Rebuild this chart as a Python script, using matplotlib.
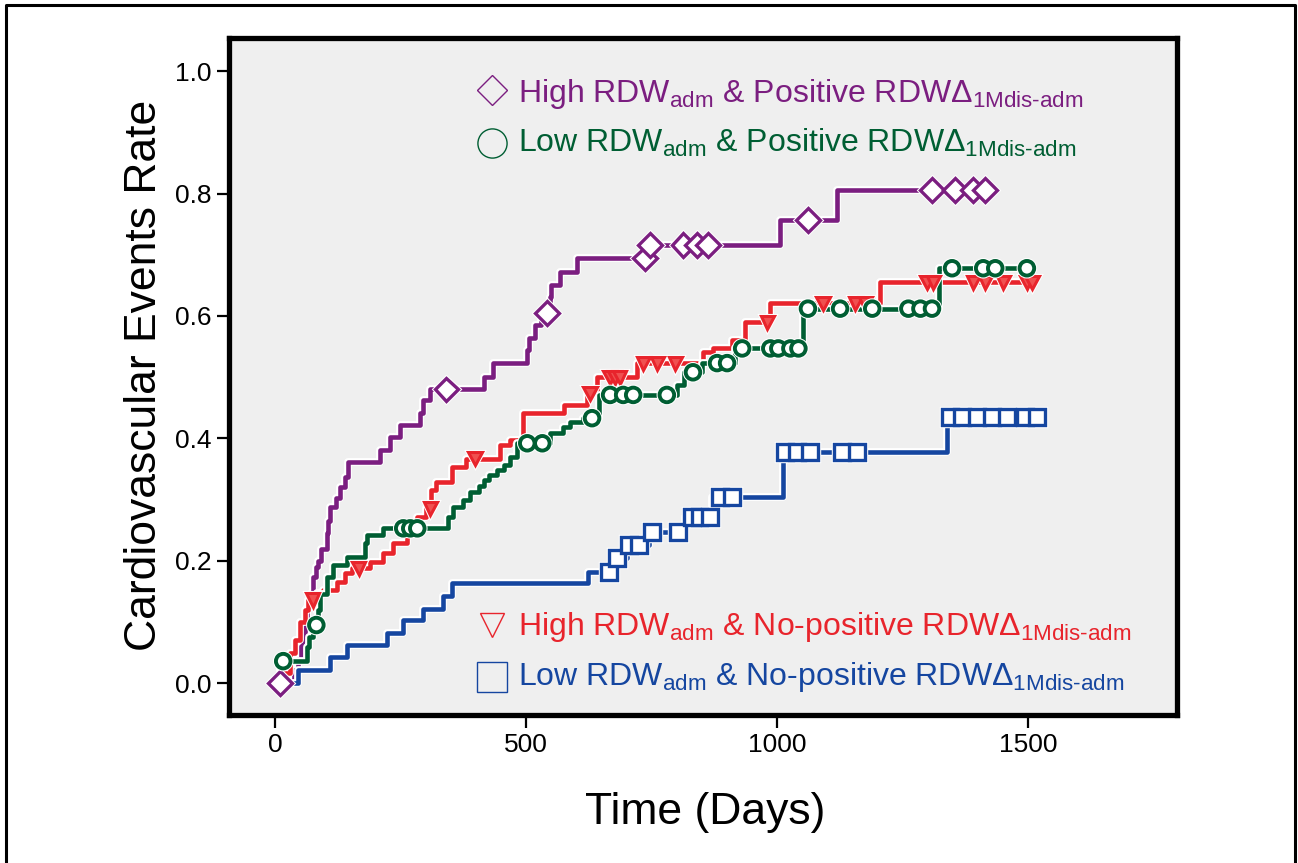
import numpy as np
import matplotlib
matplotlib.use('Agg')
import matplotlib.pyplot as plt
import matplotlib.patheffects as pe
from matplotlib.lines import Line2D

plt.rcParams['font.family'] = ['Liberation Sans', 'DejaVu Sans']
plt.rcParams['mathtext.fontset'] = 'custom'
plt.rcParams['mathtext.rm'] = 'Liberation Sans'
plt.rcParams['mathtext.it'] = 'Liberation Sans'
plt.rcParams['mathtext.bf'] = 'Liberation Sans'

# High RDW_adm & positive delta (purple)
hp_t = [0, 38, 46, 52, 56, 60, 63, 70, 76, 82, 86, 92, 103, 106, 109, 122, 130, 139, 145,
        209, 229, 249, 289, 295, 309, 415, 434, 501, 505, 518, 530, 548, 550, 568, 601,
        742, 1006, 1119]
hp_y = [0, 0.021, 0.04, 0.06, 0.08, 0.10, 0.124, 0.145, 0.173, 0.19, 0.20, 0.22, 0.245,
        0.265, 0.288, 0.302, 0.32, 0.337, 0.361, 0.381, 0.402, 0.422, 0.441, 0.462, 0.48,
        0.50, 0.523, 0.544, 0.564, 0.585, 0.605, 0.631, 0.65, 0.672, 0.694, 0.716, 0.757,
        0.806]
hp_end = 1414
hp_cens = [10, 341, 541, 737, 747, 813, 840, 862, 1061, 1308, 1354, 1390, 1414]

# Low RDW_adm & positive delta (green)
lp_t = [0, 10, 63, 68, 75, 85, 90, 103, 116, 143, 179, 182, 215, 344, 354, 374, 388, 405,
        415, 425, 441, 455, 468, 481, 548, 574, 587, 614, 645, 800, 815, 850, 915, 1052,
        1321]
lp_y = [0, 0.036, 0.059, 0.075, 0.095, 0.12, 0.145, 0.173, 0.193, 0.206, 0.229, 0.242,
        0.253, 0.272, 0.288, 0.299, 0.313, 0.323, 0.332, 0.340, 0.348, 0.356, 0.370,
        0.392, 0.408, 0.418, 0.426, 0.433, 0.471, 0.487, 0.508, 0.523, 0.547, 0.612,
        0.678]
lp_end = 1497
lp_cens = [16, 82, 255, 269, 283, 502, 532, 631, 667, 693, 713, 780, 832, 880, 900, 930,
           986, 1002, 1026, 1042, 1061, 1125, 1189, 1261, 1285, 1308, 1348, 1410, 1434,
           1497]

# High RDW_adm & no-positive delta (red)
hn_t = [0, 16, 30, 40, 50, 60, 66, 83, 96, 123, 139, 152, 189, 215, 235, 262, 282, 300,
        311, 320, 352, 380, 448, 468, 494, 576, 620, 640, 720, 852, 872, 910, 936, 986,
        1205]
hn_y = [0, 0.016, 0.049, 0.07, 0.10, 0.119, 0.136, 0.147, 0.152, 0.165, 0.18, 0.188,
        0.198, 0.212, 0.229, 0.245, 0.271, 0.286, 0.315, 0.329, 0.353, 0.367, 0.389,
        0.397, 0.441, 0.455, 0.474, 0.50, 0.523, 0.541, 0.547, 0.56, 0.59, 0.621, 0.655]
hn_end = 1507
hn_cens = [75, 166, 309, 398, 627, 666, 676, 686, 733, 761, 797, 980, 1091, 1155, 1175,
           1298, 1311, 1390, 1414, 1450, 1497, 1507]

# Low RDW_adm & no-positive delta (blue)
ln_t = [0, 45, 110, 143, 223, 255, 295, 335, 352, 623, 672, 700, 745, 816, 870, 1012, 1338]
ln_y = [0, 0.022, 0.042, 0.062, 0.082, 0.103, 0.122, 0.143, 0.163, 0.181, 0.204, 0.225,
        0.247, 0.271, 0.304, 0.377, 0.435]
ln_end = 1517
ln_cens = [665, 680, 705, 725, 751, 803, 830, 845, 866, 885, 910, 1016, 1039, 1065, 1129,
           1159, 1344, 1368, 1398, 1428, 1458, 1493, 1517]

labels = [r'High RDW$_{\mathregular{adm}}$ & Positive RDWΔ$_{\mathregular{1Mdis\text{-}adm}}$',
          r'Low RDW$_{\mathregular{adm}}$ & Positive RDWΔ$_{\mathregular{1Mdis\text{-}adm}}$',
          r'High RDW$_{\mathregular{adm}}$ & No-positive RDWΔ$_{\mathregular{1Mdis\text{-}adm}}$',
          r'Low RDW$_{\mathregular{adm}}$ & No-positive RDWΔ$_{\mathregular{1Mdis\text{-}adm}}$']
colors = ['#7b1e80', '#005e33', '#e8242c', '#1546a0']


def level_at(t, y, when):
    idx = np.searchsorted(t, when, side='right') - 1
    return np.asarray(y)[idx]


fig = plt.figure(figsize=(12.98, 8.63), dpi=100)
ax = fig.add_axes([0.1768, 0.1715, 0.7300, 0.7850])
ax.set_facecolor('#efefef')

halo = [pe.Stroke(linewidth=5.6, foreground='white'), pe.Normal()]
series = [
    (hp_t, hp_y, hp_end, hp_cens, colors[0], 'D', 12, 'white', 2.4),
    (hn_t, hn_y, hn_end, hn_cens, colors[2], 'v', 9.5, '#f05050', 2.2),
    (lp_t, lp_y, lp_end, lp_cens, colors[1], 'o', 10.5, 'white', 2.8),
    (ln_t, ln_y, ln_end, ln_cens, colors[3], 's', 11.5, 'white', 2.4),
]
for t, y, end, cens, c, mk, ms, mfc, mew in series:
    ax.step(t + [end], y + [y[-1]], where='post', color=c, lw=3.3,
            path_effects=halo, zorder=3)
    cy = level_at(t, y, cens)
    ax.plot(cens, cy, ls='none', marker=mk, ms=ms, mfc=mfc, mec=c, mew=mew, zorder=4,
            path_effects=[pe.Stroke(linewidth=mew + 1.5, foreground='white'), pe.Normal()])

ax.set_xlim(-91, 1796)
ax.set_ylim(-0.052, 1.055)
ax.set_xticks([0, 500, 1000, 1500])
ax.set_yticks([0.0, 0.2, 0.4, 0.6, 0.8, 1.0])
ax.set_yticklabels(['0.0', '0.2', '0.4', '0.6', '0.8', '1.0'])
ax.tick_params(direction='out', length=9, width=1.6, labelsize=19, pad=4)
for s in ax.spines.values():
    s.set_linewidth(3.8)

fig.text(145 / 1298, 1 - 375 / 863, 'Cardiovascular Events Rate', rotation=90,
         ha='center', va='center', fontsize=32)
fig.text(705 / 1298, 1 - 812 / 863, 'Time (Days)', ha='center', va='center', fontsize=32)

# legend written inside the plot
leg_marks = ['D', 'o', 'v', 's']
leg_ms = [15, 21, 17, 21]
leg_y = [0.9225, 0.844, 0.133, 0.056]
base_y = [0.9053, 0.8314, 0.1181, 0.0443]
for lab, c, mk, ms, my, by in zip(labels, colors, leg_marks, leg_ms, leg_y, base_y):
    ax.plot([0.277], [my], transform=ax.transAxes, marker=mk, ms=ms, mfc='none', mec=c,
            mew=1.0, ls='none', clip_on=False)
    ax.text(0.3045, by, lab, transform=ax.transAxes, color=c, fontsize=23,
            ha='left', va='baseline')

# outer frame of the panel
fig.add_artist(Line2D([6 / 1298, 6 / 1298, 1295 / 1298, 1295 / 1298],
                      [0, 1 - 5 / 863, 1 - 5 / 863, 0], color='black', lw=2.2,
                      transform=fig.transFigure))

fig.savefig('out.png', dpi=100, facecolor='white')
